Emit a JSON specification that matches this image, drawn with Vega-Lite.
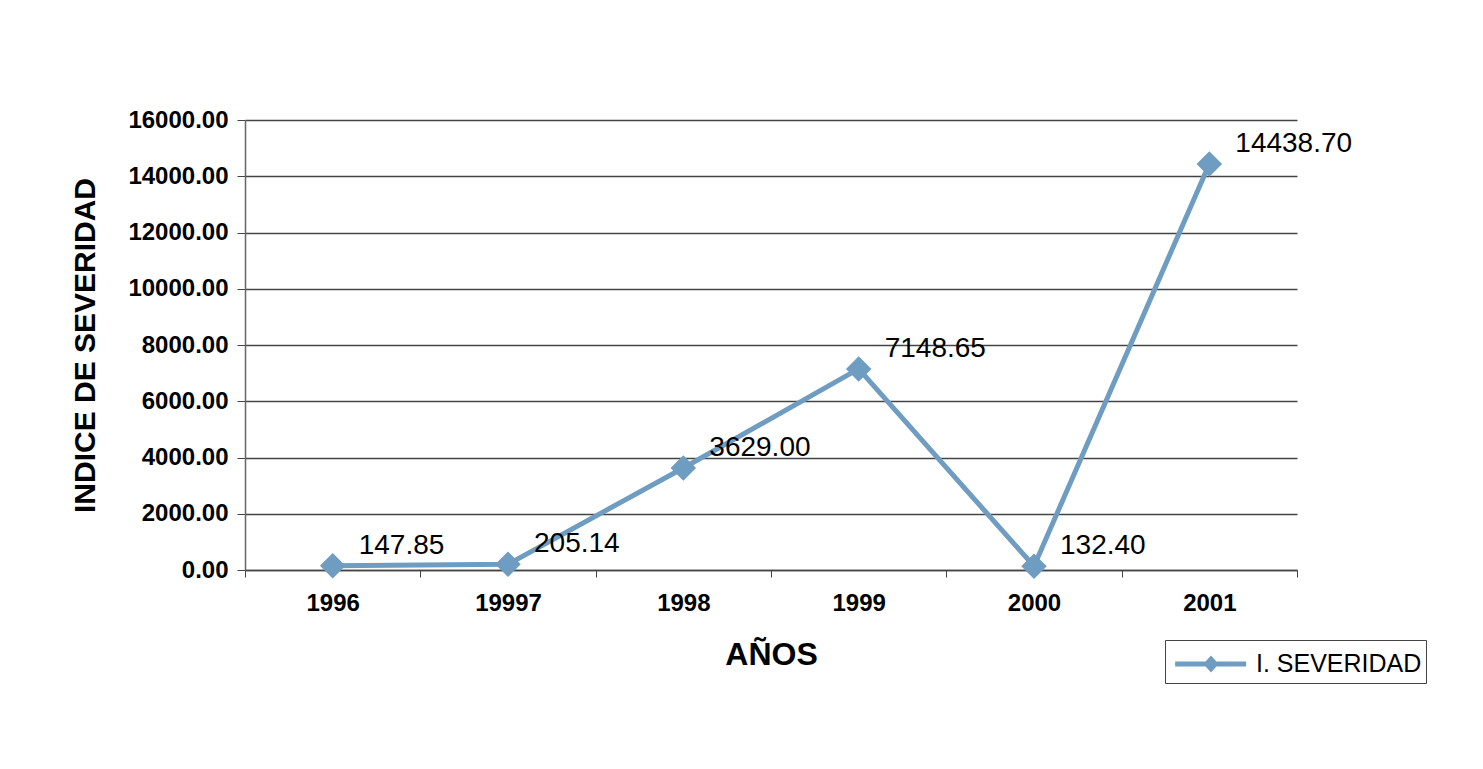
{
  "$schema": "https://vega.github.io/schema/vega-lite/v6.json",
  "width": 1052,
  "height": 450,
  "autosize": {"type": "none"},
  "padding": {"left": 245, "top": 120, "right": 186, "bottom": 199},
  "background": "white",
  "config": {
    "font": "Liberation Sans",
    "view": {"stroke": null}
  },
  "data": {
    "values": [
      {"anio": "1996", "valor": 147.85, "serie": "I. SEVERIDAD"},
      {"anio": "19997", "valor": 205.14, "serie": "I. SEVERIDAD"},
      {"anio": "1998", "valor": 3629.00, "serie": "I. SEVERIDAD"},
      {"anio": "1999", "valor": 7148.65, "serie": "I. SEVERIDAD"},
      {"anio": "2000", "valor": 132.40, "serie": "I. SEVERIDAD"},
      {"anio": "2001", "valor": 14438.70, "serie": "I. SEVERIDAD"}
    ]
  },
  "encoding": {
    "x": {
      "field": "anio",
      "type": "ordinal",
      "sort": null,
      "scale": {"type": "band", "paddingInner": 0, "paddingOuter": 0},
      "axis": {
        "title": "AÑOS",
        "titleFontSize": 32,
        "titleFontWeight": "bold",
        "titleColor": "black",
        "titlePadding": 24,
        "labelAngle": 0,
        "labelFontSize": 24,
        "labelFontWeight": "bold",
        "labelColor": "black",
        "labelPadding": 14,
        "tickBand": "extent",
        "tickSize": 7,
        "tickColor": "#444",
        "domainColor": "#444",
        "domainWidth": 1.5,
        "grid": false
      }
    },
    "y": {
      "field": "valor",
      "type": "quantitative",
      "scale": {"domain": [0, 16000], "nice": false},
      "axis": {
        "title": "INDICE DE SEVERIDAD",
        "titleFontSize": 30,
        "titleFontWeight": "bold",
        "titleColor": "black",
        "titlePadding": 27,
        "values": [0, 2000, 4000, 6000, 8000, 10000, 12000, 14000, 16000],
        "format": ".2f",
        "labelFontSize": 24,
        "labelFontWeight": "bold",
        "labelColor": "black",
        "labelPadding": 9,
        "labelLimit": 200,
        "tickSize": 8,
        "tickColor": "#444",
        "domainColor": "#666",
        "domainWidth": 1.5,
        "grid": true,
        "gridColor": "#444",
        "gridWidth": 1.3
      }
    }
  },
  "layer": [
    {
      "mark": {"type": "line", "strokeWidth": 5, "point": {"shape": "diamond", "size": 650, "filled": true}},
      "encoding": {
        "color": {
          "field": "serie",
          "type": "nominal",
          "scale": {"range": ["#6f9dc2"]},
          "legend": {
            "title": null,
            "orient": "none",
            "legendX": 920,
            "legendY": 520,
            "labelFontSize": 25,
            "labelFontWeight": 500,
            "labelColor": "black",
            "labelFont": "Liberation Sans",
            "labelOffset": 47,
            "labelLimit": 300,
            "symbolType": "M-0.8,0L3.3,0M1.02,0L1.27,-0.28L1.52,0L1.27,0.28Z",
            "symbolSize": 1200,
            "symbolStrokeWidth": 5,
            "symbolFillColor": "#6f9dc2",
            "strokeColor": "#444",
            "padding": 4,
            "fillColor": "white"
          }
        }
      }
    },
    {
      "mark": {"type": "text", "align": "left", "baseline": "middle", "dx": 26, "dy": -20, "fontSize": 28, "color": "black"},
      "encoding": {
        "text": {"field": "valor", "type": "quantitative", "format": ".2f"}
      }
    }
  ]
}
